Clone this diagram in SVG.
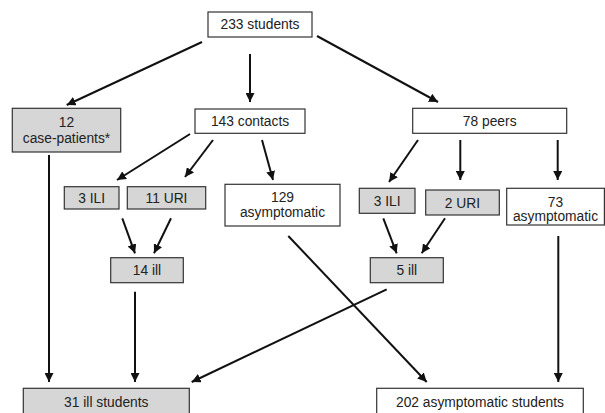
<svg xmlns="http://www.w3.org/2000/svg" width="605" height="413" viewBox="0 0 605 413">
<style>
.box{fill:#ffffff;stroke:#333333;stroke-width:1.2}
.ill{fill:#d6d6d6;stroke:#333333;stroke-width:1.2}
text{font-family:"Liberation Sans",Arial,sans-serif;font-size:13.8px;fill:#222222;text-anchor:middle}
.c line{stroke:#111111;stroke-width:2;marker-end:url(#ah)}
</style>
<defs>
<marker id="ah" markerUnits="userSpaceOnUse" markerWidth="10" markerHeight="9" refX="9" refY="4.5" orient="auto">
<path d="M0,0 L9,4.5 L0,9 Z" fill="#111111"/>
</marker>
</defs>
<rect width="605" height="413" fill="#ffffff"/>
<g class="c" id="connectors">
<line x1="202" y1="42" x2="66.7" y2="105"/>
<line x1="250" y1="54" x2="250" y2="102"/>
<line x1="317" y1="36" x2="438" y2="102"/>
<line x1="190" y1="134" x2="117" y2="180"/>
<line x1="213" y1="140" x2="185" y2="177"/>
<line x1="262" y1="140" x2="273" y2="180"/>
<line x1="418" y1="140" x2="389" y2="182"/>
<line x1="460.3" y1="140" x2="460.3" y2="180"/>
<line x1="557.7" y1="140" x2="557.7" y2="180"/>
<line x1="49" y1="155" x2="49" y2="382"/>
<line x1="122.3" y1="218.3" x2="135" y2="253.3"/>
<line x1="171" y1="218.3" x2="154" y2="253.3"/>
<line x1="383.3" y1="218.3" x2="396.7" y2="253.3"/>
<line x1="445" y1="218.3" x2="421.7" y2="253.3"/>
<line x1="135" y1="291.7" x2="135" y2="382"/>
<line x1="386.7" y1="289.3" x2="191.7" y2="382"/>
<line x1="288.3" y1="236" x2="426.7" y2="382"/>
<line x1="558.3" y1="236" x2="558.3" y2="382"/>
</g>
<g id="n233"><rect class="box" x="208" y="12" width="104" height="25"/><text x="260" y="29">233 students</text></g>
<g id="ncase"><rect class="ill" x="12.3" y="108.3" width="108.4" height="43.7"/><text x="66.5" y="127">12</text><text x="66.5" y="143">case-patients*</text></g>
<g id="ncontacts"><rect class="box" x="195" y="109" width="110" height="24.3"/><text x="250" y="126">143 contacts</text></g>
<g id="npeers"><rect class="box" x="412.7" y="108.3" width="154" height="25"/><text x="489.7" y="126">78 peers</text></g>
<g id="nili1"><rect class="ill" x="64.3" y="186.7" width="54.7" height="22.3"/><text x="91.7" y="203">3 ILI</text></g>
<g id="nuri1"><rect class="ill" x="127.3" y="186.7" width="78.4" height="22.3"/><text x="166.5" y="203">11 URI</text></g>
<g id="nasym1"><rect class="box" x="225" y="184.3" width="115" height="41.7"/><text x="282.5" y="202">129</text><text x="282.5" y="216.5">asymptomatic</text></g>
<g id="nili2"><rect class="ill" x="359.3" y="188.3" width="55.7" height="25"/><text x="387.2" y="205.5">3 ILI</text></g>
<g id="nuri2"><rect class="ill" x="425.7" y="190" width="73.6" height="25"/><text x="462.5" y="207.5">2 URI</text></g>
<g id="nasym2"><rect class="box" x="506.7" y="188.3" width="97.7" height="36.7"/><text x="555.5" y="207">73</text><text x="555.5" y="221">asymptomatic</text></g>
<g id="nill14"><rect class="ill" x="110.7" y="257.7" width="72.6" height="25"/><text x="147" y="275">14 ill</text></g>
<g id="nill5"><rect class="ill" x="370.3" y="257.7" width="73" height="25"/><text x="406.8" y="275">5 ill</text></g>
<g id="nill31"><rect class="ill" x="23.3" y="388.3" width="166" height="30"/><text x="106.3" y="406.5">31 ill students</text></g>
<g id="nasym202"><rect class="box" x="376.7" y="388.3" width="206.6" height="30"/><text x="480" y="406.5">202 asymptomatic students</text></g>
</svg>
